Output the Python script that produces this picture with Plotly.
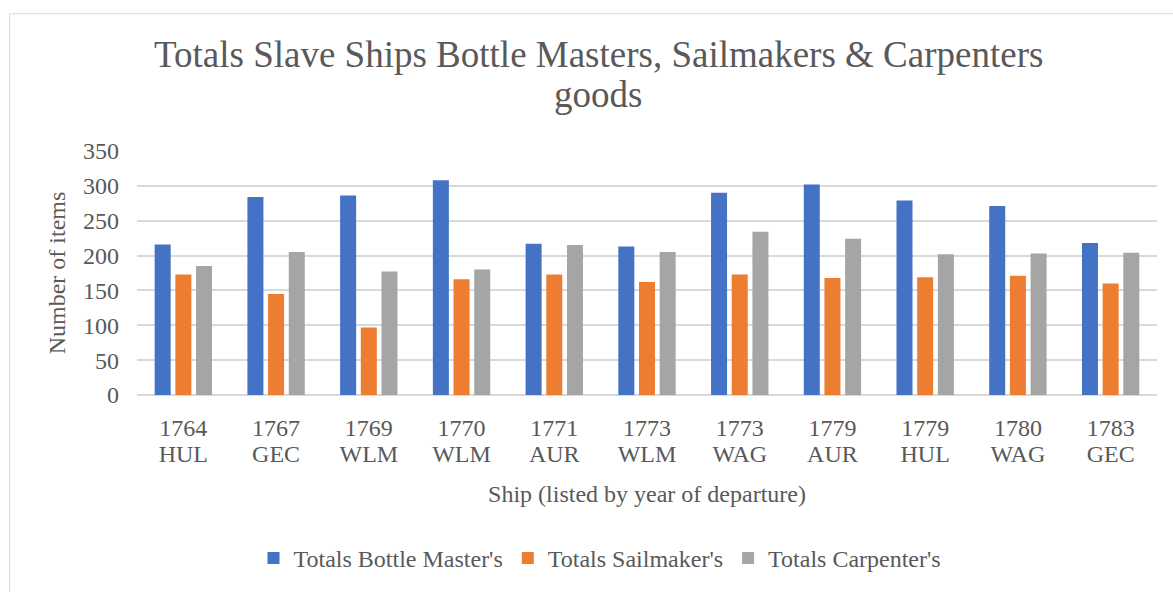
import plotly.graph_objects as go

# Ships listed by year of departure
years = ["1764", "1767", "1769", "1770", "1771", "1773", "1773", "1779", "1779", "1780", "1783"]
ships = ["HUL", "GEC", "WLM", "WLM", "AUR", "WLM", "WAG", "AUR", "HUL", "WAG", "GEC"]

bottle_masters = [216, 284, 286, 308, 217, 213, 290, 302, 279, 271, 218]
sailmakers = [173, 145, 97, 166, 173, 162, 173, 168, 169, 171, 160]
carpenters = [185, 205, 177, 180, 215, 205, 234, 224, 202, 203, 204]

y_ticks = [0, 50, 100, 150, 200, 250, 300, 350]

positions = list(range(len(years)))

FONT = "Liberation Serif, Times New Roman, serif"
TEXT = "#595959"
GRID = "#d9d9d9"

fig = go.Figure()
series = [
    ("Totals Bottle Master's", bottle_masters, "#4472C4"),
    ("Totals Sailmaker's", sailmakers, "#ED7D31"),
    ("Totals Carpenter's", carpenters, "#A5A5A5"),
]
for name, vals, color in series:
    fig.add_trace(go.Bar(
        x=positions, y=vals, name=name,
        marker=dict(color=color, line=dict(width=0)),
    ))

# Empty trace that carries the second row of category labels (ship codes)
fig.add_trace(go.Scatter(
    x=positions, y=[None] * len(positions), xaxis="x2", yaxis="y",
    mode="markers", showlegend=False, hoverinfo="skip",
))

# Plot-area geometry in pixels, used to place title and frame in paper units
W, H = 1173, 592
L, R, T, B = 137, 16, 151, 193
pw, ph = W - L - R, H - T - B


def px_x(px):
    return (px - L) / pw


def px_y(py):
    return (H - B - py) / ph


fig.update_layout(
    width=W, height=H,
    margin=dict(l=L, r=R, t=T, b=B),
    paper_bgcolor="white", plot_bgcolor="white",
    font=dict(family=FONT, color=TEXT, size=24),
    barmode="group", bargap=0.331, bargroupgap=0.226,
    showlegend=True,
    legend=dict(
        orientation="h", x=px_x(600), xanchor="center",
        y=px_y(565), yanchor="middle",
        font=dict(family=FONT, size=24, color=TEXT),
        itemsizing="constant", traceorder="normal",
    ),
    xaxis=dict(
        range=[-0.5, len(years) - 0.5],
        tickmode="array", tickvals=positions, ticktext=years,
        showgrid=False, zeroline=False, showline=False, ticks="",
        tickfont=dict(family=FONT, size=24, color=TEXT),
        ticklabelstandoff=16,
    ),
    xaxis2=dict(
        overlaying="x", anchor="y", side="bottom",
        range=[-0.5, len(years) - 0.5],
        tickmode="array", tickvals=positions, ticktext=ships,
        showgrid=False, zeroline=False, showline=False, ticks="",
        tickfont=dict(family=FONT, size=24, color=TEXT),
        ticklabelstandoff=42,
        title=dict(text="Ship (listed by year of departure)",
                   font=dict(family=FONT, size=24, color=TEXT), standoff=19),
    ),
    yaxis=dict(
        range=[0, 350], tickmode="array", tickvals=y_ticks,
        showgrid=True, gridcolor=GRID, gridwidth=1.5,
        zeroline=True, zerolinecolor=GRID, zerolinewidth=1.5,
        showline=False, ticks="",
        tickfont=dict(family=FONT, size=24, color=TEXT),
        ticklabelstandoff=17,
        title=dict(text="Number of items",
                   font=dict(family=FONT, size=24, color=TEXT), standoff=10),
    ),
)

# Chart frame
fig.add_shape(type="rect", xref="paper", yref="paper",
              x0=px_x(9.5), x1=px_x(1200), y0=px_y(620), y1=px_y(11.5),
              line=dict(color=GRID, width=1), fillcolor="rgba(0,0,0,0)",
              layer="below")

# Two-line chart title
title_lines = ["Totals Slave Ships Bottle Masters, Sailmakers & Carpenters", "goods"]
for line, py in zip(title_lines, [53, 94]):
    fig.add_annotation(text=line, xref="paper", yref="paper",
                       x=px_x(598), y=px_y(py), xanchor="center", yanchor="middle",
                       showarrow=False,
                       font=dict(family=FONT, size=37, color=TEXT))

fig.write_html("out.html")
